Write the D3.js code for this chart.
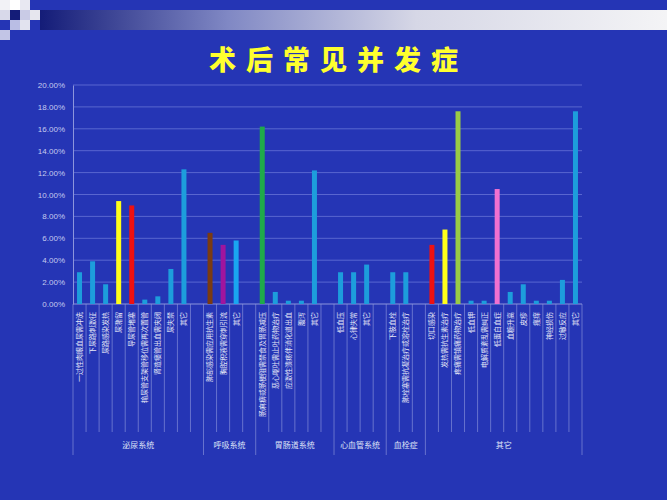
<!DOCTYPE html>
<meta charset="utf-8">
<title>术后常见并发症</title>
<style>
  body { margin: 0; background: #2535b5; }
  svg { display: block; }
</style>

<!-- Load d3.js -->
<script src="https://d3js.org/d3.v7.min.js"></script>

<body>
<div id="my_dataviz"></div>

<script>

// category labels, "" = empty spacer slot between groups
var categories = [
  "一过性肉眼血尿需冲洗", "下尿路刺激征", "尿路感染发热", "尿潴留", "导尿管堵塞",
  "输尿管支架管移位需再次置管", "肾造瘘管出血需夹闭", "尿失禁", "其它", "",
  "肺部感染需应用抗生素", "胸腔积液需穿刺引流", "其它", "",
  "肠麻痹或肠梗阻需禁食及胃肠减压", "恶心呕吐需止吐药物治疗", "应激性溃疡伴消化道出血", "腹泻", "其它", "",
  "低血压", "心律失常", "其它", "",
  "下肢血栓", "肺栓塞需抗凝治疗或溶栓治疗", "",
  "切口感染", "发热需抗生素治疗", "疼痛需镇痛药物治疗", "低血钾", "电解质紊乱需纠正",
  "低蛋白血症", "血糖升高", "皮疹", "瘙痒", "神经损伤", "过敏反应", "其它"
];

// percentages (null = no bar)
var values = [
  2.9, 3.9, 1.8, 9.4, 9.0, 0.4, 0.7, 3.2, 12.3, null,
  6.5, 5.4, 5.8, null,
  16.2, 1.1, 0.3, 0.3, 12.2, null,
  2.9, 2.9, 3.6, null,
  2.9, 2.9, null,
  5.4, 6.8, 17.6, 0.3, 0.3, 10.5, 1.1, 1.8, 0.3, 0.3, 2.2, 17.6
];

var groupNames = ["泌尿系统", "呼吸系统", "胃肠道系统", "心血管系统", "血栓症", "其它"];
var groupSizes = [10, 4, 6, 4, 3, 12];

var yTicks = [0, 2, 4, 6, 8, 10, 12, 14, 16, 18, 20];

// bar colours by slot (default blue)
var barBlue = "#1d9ddc";
var barColors = {3: "#ffff1a", 4: "#ee1111", 10: "#7a3b12", 11: "#a0159e", 12: "#1aa6f0",
                 14: "#1faa4a", 27: "#ee1111", 28: "#ffff1a", 29: "#9acb45", 32: "#f070d0"};

var W = 667, H = 500;
var margin = {top: 85, right: 85, bottom: 196, left: 73},
    width = W - margin.left - margin.right,
    height = H - margin.top - margin.bottom;

var root = d3.select("#my_dataviz")
  .append("svg")
    .attr("width", W)
    .attr("height", H);

// slide background
root.append("rect").attr("width", W).attr("height", H).attr("fill", "#2535b5");

var defs = root.append("defs");
var grad = defs.append("linearGradient").attr("id", "band");
grad.append("stop").attr("offset", "0%").attr("stop-color", "#141c78");
grad.append("stop").attr("offset", "30%").attr("stop-color", "#8088c4");
grad.append("stop").attr("offset", "60%").attr("stop-color", "#d6d7e6");
grad.append("stop").attr("offset", "100%").attr("stop-color", "#f4f4f6");

root.append("rect").attr("x", 40).attr("y", 10).attr("width", W - 40).attr("height", 20)
  .attr("fill", "url(#band)");

// corner squares
var squares = [
  [0, 0, "#f2f2f6"], [10, 0, "#ffffff"], [20, 0, "#e8e8f2"], [30, 0, "#2535b5"],
  [0, 10, "#d8d9ea"], [10, 10, "#141c78"], [20, 10, "#c9cbe6"], [30, 10, "#e6e6ee"],
  [0, 20, "#2535b5"], [10, 20, "#b9bde4"], [20, 20, "#e2e3ef"],
  [0, 30, "#c2c5e6"]
];
root.selectAll(".sq").data(squares).enter().append("rect")
  .attr("x", function(d) { return d[0]; })
  .attr("y", function(d) { return d[1]; })
  .attr("width", 10).attr("height", 10)
  .attr("fill", function(d) { return d[2]; });

// title
root.append("text")
  .attr("x", W / 2 + 5)
  .attr("y", 70)
  .attr("text-anchor", "middle")
  .style("font-family", "'Noto Sans CJK SC', sans-serif")
  .style("font-weight", 900)
  .style("font-size", "27px")
  .style("letter-spacing", "10px")
  .attr("fill", "#ffff2e")
  .text("术后常见并发症");

var svg = root.append("g")
  .attr("transform", "translate(" + margin.left + "," + margin.top + ")");

// scales
var x = d3.scaleBand()
  .domain(d3.range(categories.length))
  .range([0, width]);

var y = d3.scaleLinear()
  .domain([0, 20])
  .range([height, 0]);

// gridlines
svg.selectAll(".grid")
  .data(yTicks.slice(1))
  .enter().append("line")
    .attr("x1", 0).attr("x2", width)
    .attr("y1", function(d) { return y(d); })
    .attr("y2", function(d) { return y(d); })
    .attr("stroke", "#6f7cdc")
    .attr("stroke-opacity", 0.7)
    .attr("stroke-width", 1);

// Y axis
var yAxis = svg.append("g")
  .call(d3.axisLeft(y).tickValues(yTicks).tickSize(0).tickPadding(8)
    .tickFormat(function(d) { return d.toFixed(2) + "%"; }));
yAxis.select(".domain").attr("stroke", "#8c95dc");
yAxis.selectAll("text")
  .style("font-family", "'Liberation Sans', Arial, sans-serif")
  .style("font-size", "8px")
  .attr("fill", "#c5cbef");

// X axis line
svg.append("line")
  .attr("x1", 0).attr("x2", width)
  .attr("y1", height).attr("y2", height)
  .attr("stroke", "#8c95dc");

// category separators, long ones at group boundaries
var bounds = [0], acc = 0;
groupSizes.forEach(function(n) { acc += n; bounds.push(acc); });

svg.selectAll(".sep")
  .data(d3.range(categories.length + 1))
  .enter().append("line")
    .attr("x1", function(i) { return i < categories.length ? x(i) : width; })
    .attr("x2", function(i) { return i < categories.length ? x(i) : width; })
    .attr("y1", height)
    .attr("y2", function(i) { return bounds.indexOf(i) >= 0 ? height + 151 : height + 128; })
    .attr("stroke", "#8c95dc")
    .attr("stroke-opacity", 0.8)
    .attr("stroke-width", 0.8);

// Bars
var barW = 5;
svg.selectAll("myRect")
  .data(values.map(function(v, i) { return {i: i, v: v}; }).filter(function(d) { return d.v !== null; }))
  .enter()
  .append("rect")
    .attr("x", function(d) { return x(d.i) + (x.bandwidth() - barW) / 2; })
    .attr("y", function(d) { return y(d.v); })
    .attr("width", barW)
    .attr("height", function(d) { return height - y(d.v); })
    .attr("fill", function(d) { return barColors[d.i] || barBlue; });

// category labels (rotated)
svg.selectAll(".cat")
  .data(categories)
  .enter().append("text")
    .attr("transform", function(d, i) {
      return "translate(" + (x(i) + x.bandwidth() / 2) + "," + (height + 8) + ")rotate(-90)";
    })
    .attr("dy", "0.35em")
    .attr("text-anchor", "end")
    .style("font-family", "'Noto Sans CJK SC', sans-serif")
    .style("font-size", "7px")
    .attr("fill", "#e4e7f7")
    .text(function(d) { return d; });

// group labels
svg.selectAll(".grp")
  .data(groupNames)
  .enter().append("text")
    .attr("x", function(d, k) {
      var a = bounds[k], b = bounds[k + 1];
      var xa = x(a), xb = b < categories.length ? x(b) : width;
      return (xa + xb) / 2;
    })
    .attr("y", height + 144)
    .attr("text-anchor", "middle")
    .style("font-family", "'Noto Sans CJK SC', sans-serif")
    .style("font-size", "8px")
    .attr("fill", "#dfe3f7")
    .text(function(d) { return d; });

</script>
</body>
</html>
